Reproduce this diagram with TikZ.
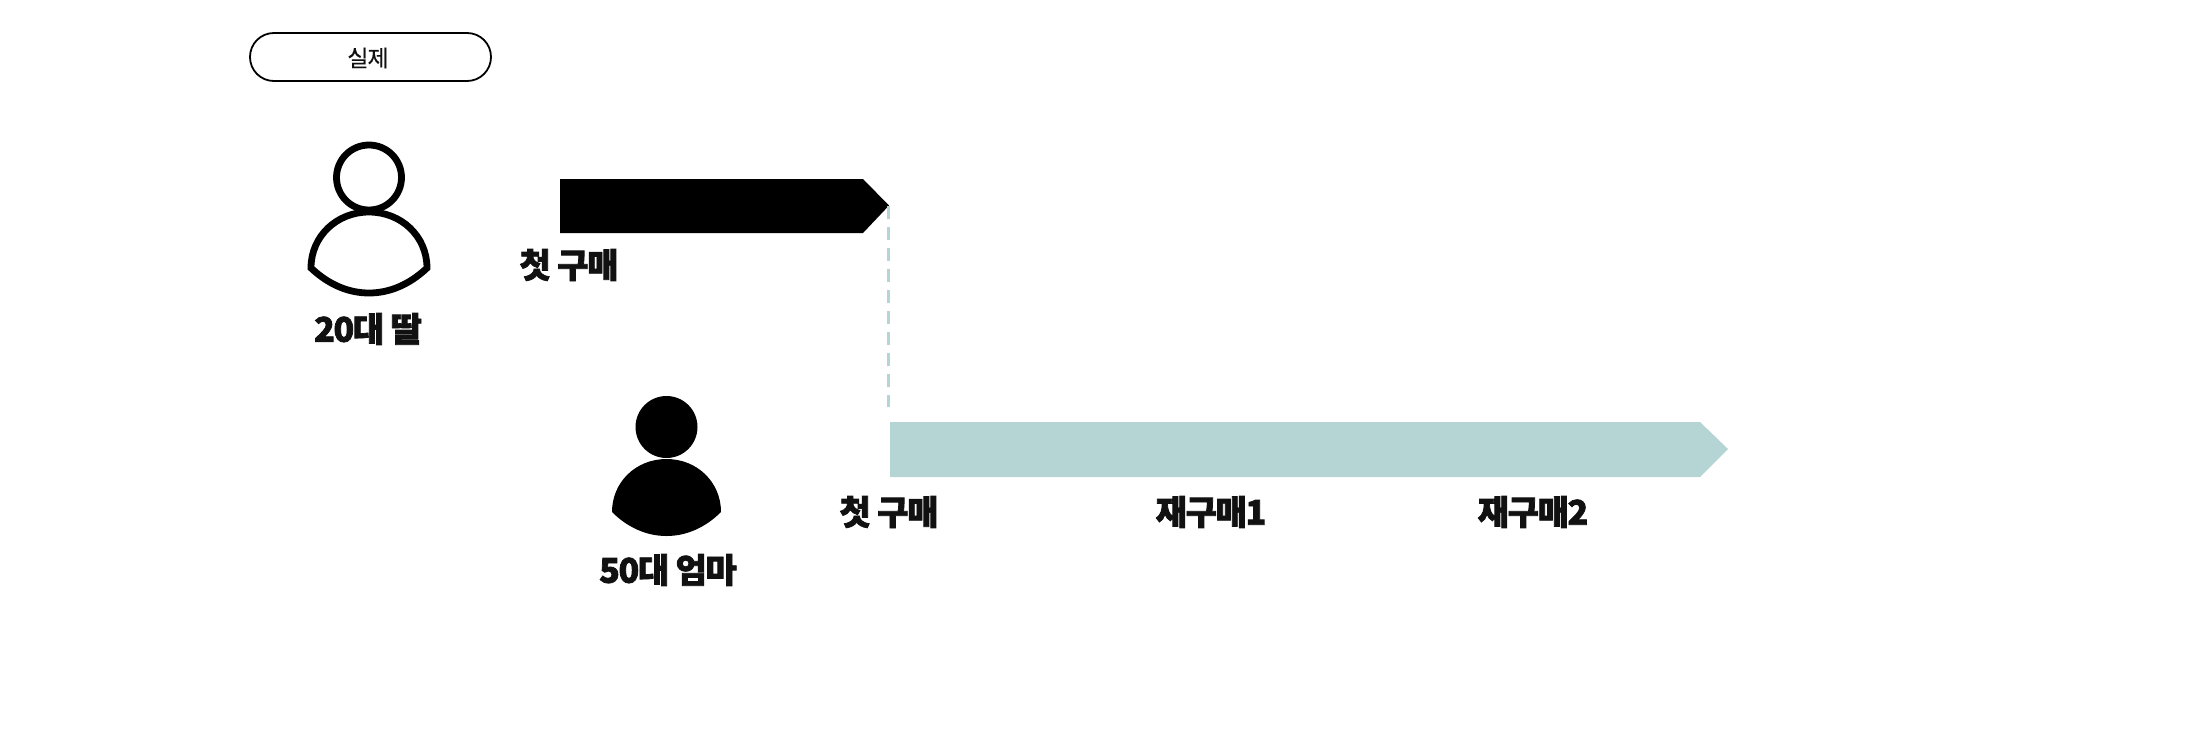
\documentclass[tikz,border=0pt]{standalone}
\usepackage{fontspec}
\setmainfont{Noto Sans CJK KR}
\newfontfamily\krreg{Noto Sans CJK KR}[LetterSpace=-4,FakeBold=0.5]
\newfontfamily\krbold{Noto Sans CJK KR}[LetterSpace=-4,BoldFeatures={FakeBold=2.2}]
\definecolor{tealpale}{HTML}{B4D5D3}
\definecolor{ink}{HTML}{111111}
\tikzset{
  pill/.style={draw=black,line width=1.8pt,rounded corners=23.9pt,fill=white},
  plainlabel/.style={font=\krreg\fontsize{23}{23}\selectfont,text=ink,inner sep=0pt,anchor=center},
  boldlabel/.style={font=\krbold\bfseries\fontsize{34}{34}\selectfont,text=ink,inner sep=0pt,anchor=center},
  outlineperson/.style={draw=black,line width=6.8pt,fill=white},
  solidperson/.style={fill=black},
  guide/.style={draw=tealpale,line width=2.6pt,dash pattern=on 13pt off 8pt},
}
\begin{document}
\begin{tikzpicture}[x=1pt,y=-1pt]
\useasboundingbox (0,0) rectangle (2196,742);
% legend pill
\draw[pill] (250,33) rectangle (491,81);
\node[plainlabel] (legend) at (368,58) {실제};
% timeline bars
\fill[black] (560,179) -- (863,179) -- (889,205.5) -- (863,233) -- (560,233) -- cycle;
\fill[tealpale] (890,422) -- (1700,422) -- (1728,449) -- (1700,477) -- (890,477) -- cycle;
\coordinate (tipA) at (888.5,206);
\coordinate (endA) at (888.5,407);
\draw[guide] (tipA) -- (endA);
% outlined person
\draw[outlineperson] (369,177.5) circle (32.5);
\draw[outlineperson] (311,268) .. controls (311,236) and (337,212) .. (369,212)
  .. controls (401,212) and (427,236) .. (427,268)
  .. controls (409,285) and (389,293) .. (369,293)
  .. controls (349,293) and (329,285) .. (311,268) -- cycle;
% solid person
\fill[solidperson] (666.5,427) circle (31);
\fill[solidperson] (612,512) .. controls (612,482) and (636,459) .. (666.5,459)
  .. controls (697,459) and (721,482) .. (721,512)
  .. controls (706,527) and (687,536) .. (666.5,536)
  .. controls (646,536) and (627,527) .. (612,512) -- cycle;
% labels
\node[boldlabel] (daughter) at (368,329) {20대 딸};
\node[boldlabel] (firstA) at (569,265) {첫 구매};
\node[boldlabel] (mother) at (668,570) {50대 엄마};
\node[boldlabel] (firstB) at (889,512) {첫 구매};
\node[boldlabel] (rebuyA) at (1211,512) {재구매1};
\node[boldlabel] (rebuyB) at (1533,512) {재구매2};
\end{tikzpicture}
\end{document}
